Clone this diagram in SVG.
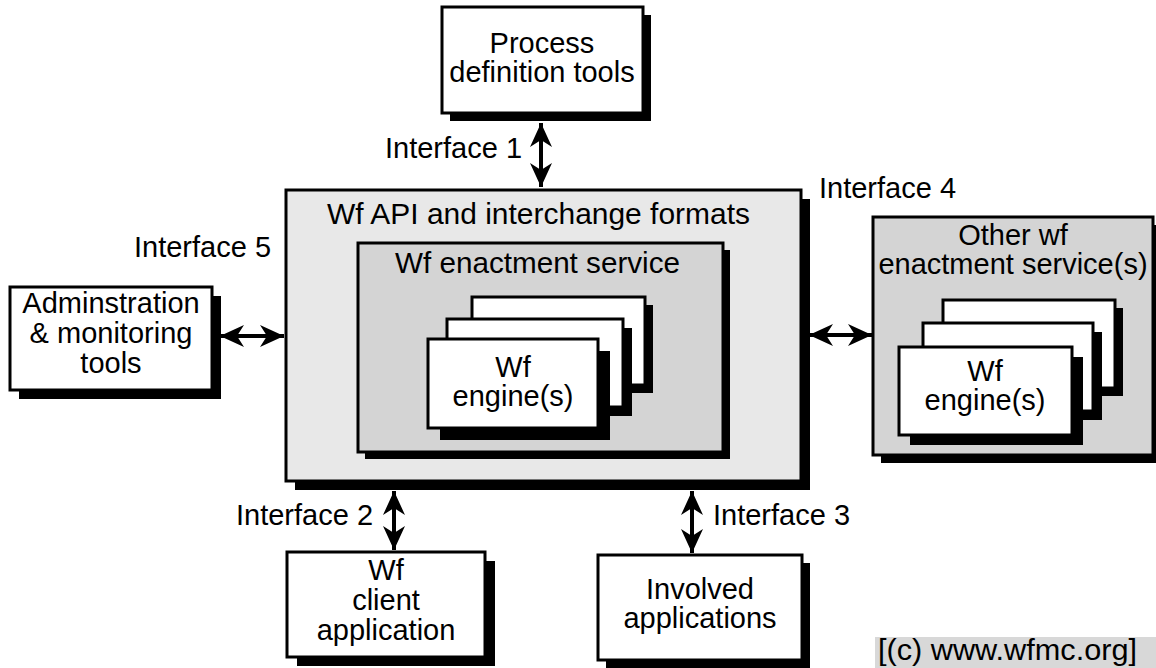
<svg xmlns="http://www.w3.org/2000/svg" width="1156" height="668" viewBox="0 0 1156 668">
  <style>
    text { font-family: "Liberation Sans", Arial, sans-serif; font-size: 29px; fill: #000; }
    .c { text-anchor: middle; }
    .box { stroke: #000; stroke-width: 3; }
    .white { fill: #fff; }
    .light { fill: #e8e8e8; }
    .mid { fill: #d4d4d4; }
    .shadow { fill: #000; }
    .link { stroke: #000; stroke-width: 4; fill: none; }
  </style>
  <defs>
    <marker id="head" viewBox="-25 -12 26 24" markerWidth="26" markerHeight="24" refX="0" refY="0" orient="auto-start-reverse" markerUnits="userSpaceOnUse">
      <path d="M0,0 L-24,-11 L-17,0 L-24,11 Z" fill="#000"/>
    </marker>
  </defs>
  <rect width="1156" height="668" fill="#fff"/>

  <g id="process-definition-tools">
    <rect class="shadow" x="450" y="15" width="201" height="106"/>
    <rect class="box white" x="442" y="7" width="201" height="106"/>
    <text class="c" x="542" y="53">Process</text>
    <text class="c" x="542" y="82">definition tools</text>
  </g>

  <g id="wf-api">
    <rect class="shadow" x="295" y="199" width="515" height="291"/>
    <rect class="box light" x="286" y="190" width="515" height="291"/>
    <text x="327" y="224" textLength="423" lengthAdjust="spacingAndGlyphs">Wf API and interchange formats</text>
  </g>

  <g id="wf-enactment-service">
    <rect class="shadow" x="365" y="250" width="365" height="209"/>
    <rect class="box mid" x="358" y="243" width="365" height="209"/>
    <text x="395" y="273" textLength="285" lengthAdjust="spacingAndGlyphs">Wf enactment service</text>
  </g>

  <g id="wf-engines">
    <rect class="shadow" x="480" y="305" width="173" height="88"/>
    <rect class="box white" x="472" y="297" width="173" height="88"/>
    <rect class="shadow" x="456" y="328" width="176" height="88"/>
    <rect class="box white" x="447" y="319" width="176" height="88"/>
    <rect class="shadow" x="440" y="351" width="170" height="89"/>
    <rect class="box white" x="428" y="339" width="170" height="89"/>
    <text class="c" x="513" y="377">Wf</text>
    <text class="c" x="513" y="406">engine(s)</text>
  </g>

  <g id="other-enactment-services">
    <rect class="shadow" x="881" y="225" width="280" height="238"/>
    <rect class="box mid" x="873" y="217" width="280" height="238"/>
    <text class="c" x="1013" y="245">Other wf</text>
    <text class="c" x="1013" y="274">enactment service(s)</text>
  </g>

  <g id="other-wf-engines">
    <rect class="shadow" x="951" y="308" width="172" height="88"/>
    <rect class="box white" x="943" y="300" width="172" height="88"/>
    <rect class="shadow" x="932" y="332" width="170" height="88"/>
    <rect class="box white" x="923" y="323" width="170" height="88"/>
    <rect class="shadow" x="910" y="357" width="173" height="88"/>
    <rect class="box white" x="899" y="347" width="173" height="88"/>
    <text class="c" x="985" y="381">Wf</text>
    <text class="c" x="985" y="410">engine(s)</text>
  </g>

  <g id="administration-tools">
    <rect class="shadow" x="19" y="296" width="202" height="103"/>
    <rect class="box white" x="10" y="287" width="202" height="103"/>
    <text class="c" x="111" y="313">Adminstration</text>
    <text class="c" x="111" y="343">&amp; monitoring</text>
    <text class="c" x="111" y="373">tools</text>
  </g>

  <g id="wf-client-application">
    <rect class="shadow" x="297" y="561" width="198" height="105"/>
    <rect class="box white" x="287" y="552" width="198" height="105"/>
    <text class="c" x="386" y="580">Wf</text>
    <text class="c" x="386" y="610">client</text>
    <text class="c" x="386" y="640">application</text>
  </g>

  <g id="involved-applications">
    <rect class="shadow" x="606" y="563" width="204" height="105"/>
    <rect class="box white" x="598" y="555" width="204" height="105"/>
    <text class="c" x="700" y="599">Involved</text>
    <text class="c" x="700" y="628">applications</text>
  </g>

  <g id="connectors">
    <line class="link" x1="541" y1="123" x2="541" y2="187" marker-start="url(#head)" marker-end="url(#head)"/>
    <line class="link" x1="220" y1="336" x2="284" y2="336" marker-start="url(#head)" marker-end="url(#head)"/>
    <line class="link" x1="809" y1="335" x2="872" y2="335" marker-start="url(#head)" marker-end="url(#head)"/>
    <line class="link" x1="394" y1="491" x2="394" y2="550" marker-start="url(#head)" marker-end="url(#head)"/>
    <line class="link" x1="692" y1="491" x2="692" y2="553" marker-start="url(#head)" marker-end="url(#head)"/>
  </g>

  <g id="interface-labels">
    <text x="385" y="158">Interface 1</text>
    <text x="819" y="198">Interface 4</text>
    <text x="134" y="257">Interface 5</text>
    <text x="236" y="525">Interface 2</text>
    <text x="713" y="525">Interface 3</text>
  </g>

  <g id="copyright">
    <rect x="875" y="637" width="281" height="31" fill="#d8d8d8"/>
    <text x="878" y="660" font-size="24" textLength="259" lengthAdjust="spacingAndGlyphs">[(c) www.wfmc.org]</text>
  </g>
</svg>
